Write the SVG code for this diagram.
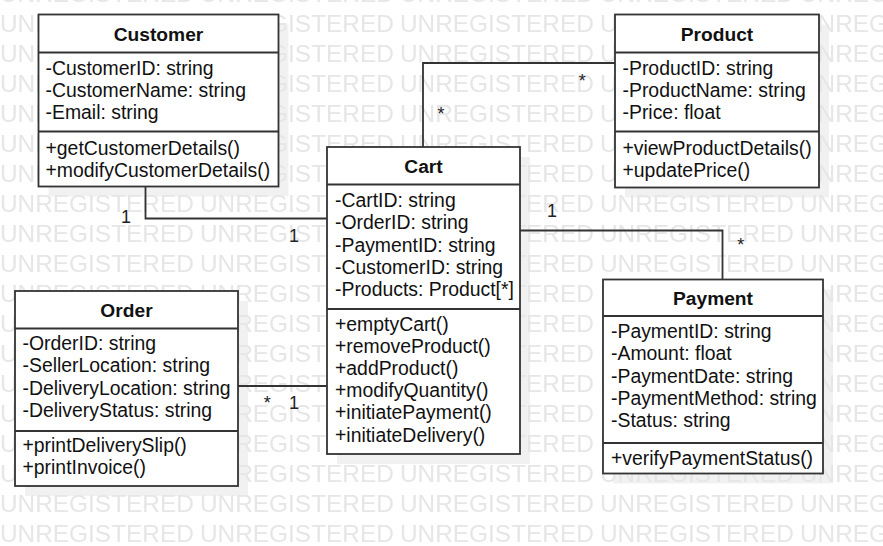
<svg xmlns="http://www.w3.org/2000/svg" width="883" height="546" viewBox="0 0 883 546">
<style>
  .wm { font-family: "Liberation Sans", Arial, sans-serif; font-size: 24.4px; fill: #e6e6e6; }
  .shadow { fill: #f1f1f1; stroke: none; }
  .box { fill: #ffffff; stroke: #333333; stroke-width: 1.8; }
  .sep { stroke: #333333; stroke-width: 1.8; fill: none; }
  .title { font-family: "Liberation Sans", Arial, sans-serif; font-size: 19.2px; font-weight: bold; fill: #111111; text-anchor: middle; }
  .t { font-family: "Liberation Sans", Arial, sans-serif; font-size: 19.4px; fill: #111111; }
  .conn { stroke: #333333; stroke-width: 1.8; fill: none; }
  .lbl { font-family: "Liberation Sans", Arial, sans-serif; font-size: 18px; fill: #222222; text-anchor: middle; }
</style>
<defs>
  <pattern id="wmPat" patternUnits="userSpaceOnUse" x="0" y="10" width="200" height="30">
    <text class="wm" x="0" y="21.7">UNREGISTERED</text>
  </pattern>
</defs>
<rect x="0" y="0" width="883" height="546" fill="#ffffff"/>
<g id="shadows">
  <rect class="shadow" x="48.5" y="24.5" width="240" height="172"/>
  <rect class="shadow" x="625" y="24.5" width="204" height="173"/>
  <rect class="shadow" x="337" y="157" width="193" height="307"/>
  <rect class="shadow" x="25" y="301" width="223" height="195"/>
  <rect class="shadow" x="613" y="289.5" width="220" height="194"/>
</g>
<rect id="watermark" x="0" y="0" width="883" height="546" fill="url(#wmPat)"/>
<g id="connectors">
  <polyline class="conn" points="145.5,186.5 145.5,218.5 327,218.5"/>
  <polyline class="conn" points="423,147 423,63 615,63"/>
  <polyline class="conn" points="520,230.5 722.5,230.5 722.5,279.5"/>
  <line class="conn" x1="238" y1="386" x2="327" y2="386"/>
  <text class="lbl" x="126" y="223">1</text>
  <text class="lbl" x="294" y="241.7">1</text>
  <text class="lbl" x="441" y="119.5">*</text>
  <text class="lbl" x="582.3" y="86.5">*</text>
  <text class="lbl" x="552" y="216.7">1</text>
  <text class="lbl" x="740.7" y="251.2">*</text>
  <text class="lbl" x="267.3" y="408.8">*</text>
  <text class="lbl" x="294" y="409">1</text>
</g>
<g id="Customer">
  <rect class="box" x="38.5" y="14.5" width="240" height="172"/>
  <line class="sep" x1="38.5" y1="52.5" x2="278.5" y2="52.5"/>
  <line class="sep" x1="38.5" y1="131.5" x2="278.5" y2="131.5"/>
  <text class="title" x="158.5" y="40.5">Customer</text>
  <text class="t" x="45.5" y="75">-CustomerID: string</text>
  <text class="t" x="45.5" y="97.2">-CustomerName: string</text>
  <text class="t" x="45.5" y="119.4">-Email: string</text>
  <text class="t" x="45.5" y="155.2">+getCustomerDetails()</text>
  <text class="t" x="45.5" y="177.4">+modifyCustomerDetails()</text>
</g>
<g id="Product">
  <rect class="box" x="615" y="14.5" width="204" height="173"/>
  <line class="sep" x1="615" y1="52.5" x2="819" y2="52.5"/>
  <line class="sep" x1="615" y1="131.5" x2="819" y2="131.5"/>
  <text class="title" x="717" y="40.5">Product</text>
  <text class="t" x="622.5" y="75">-ProductID: string</text>
  <text class="t" x="622.5" y="97.2">-ProductName: string</text>
  <text class="t" x="622.5" y="119.4">-Price: float</text>
  <text class="t" x="622.5" y="155.2">+viewProductDetails()</text>
  <text class="t" x="622.5" y="177.4">+updatePrice()</text>
</g>
<g id="Cart">
  <rect class="box" x="327" y="147" width="193" height="307"/>
  <line class="sep" x1="327" y1="184.5" x2="520" y2="184.5"/>
  <line class="sep" x1="327" y1="309" x2="520" y2="309"/>
  <text class="title" x="423.5" y="172.7">Cart</text>
  <text class="t" x="335" y="207">-CartID: string</text>
  <text class="t" x="335" y="229.3">-OrderID: string</text>
  <text class="t" x="335" y="251.6">-PaymentID: string</text>
  <text class="t" x="335" y="273.9">-CustomerID: string</text>
  <text class="t" x="335" y="296.2">-Products: Product[*]</text>
  <text class="t" x="335" y="330.5">+emptyCart()</text>
  <text class="t" x="335" y="352.7">+removeProduct()</text>
  <text class="t" x="335" y="374.9">+addProduct()</text>
  <text class="t" x="335" y="397.1">+modifyQuantity()</text>
  <text class="t" x="335" y="419.3">+initiatePayment()</text>
  <text class="t" x="335" y="441.5">+initiateDelivery()</text>
</g>
<g id="Order">
  <rect class="box" x="15" y="291" width="223" height="195"/>
  <line class="sep" x1="15" y1="328.5" x2="238" y2="328.5"/>
  <line class="sep" x1="15" y1="431" x2="238" y2="431"/>
  <text class="title" x="126.5" y="316.7">Order</text>
  <text class="t" x="22.5" y="350">-OrderID: string</text>
  <text class="t" x="22.5" y="372.3">-SellerLocation: string</text>
  <text class="t" x="22.5" y="394.6">-DeliveryLocation: string</text>
  <text class="t" x="22.5" y="416.9">-DeliveryStatus: string</text>
  <text class="t" x="22.5" y="452">+printDeliverySlip()</text>
  <text class="t" x="22.5" y="474.3">+printInvoice()</text>
</g>
<g id="Payment">
  <rect class="box" x="603" y="279.5" width="220" height="194"/>
  <line class="sep" x1="603" y1="316" x2="823" y2="316"/>
  <line class="sep" x1="603" y1="443" x2="823" y2="443"/>
  <text class="title" x="713" y="304.7">Payment</text>
  <text class="t" x="611" y="338">-PaymentID: string</text>
  <text class="t" x="611" y="360.3">-Amount: float</text>
  <text class="t" x="611" y="382.6">-PaymentDate: string</text>
  <text class="t" x="611" y="404.9">-PaymentMethod: string</text>
  <text class="t" x="611" y="427.2">-Status: string</text>
  <text class="t" x="611" y="464.5">+verifyPaymentStatus()</text>
</g>
</svg>
